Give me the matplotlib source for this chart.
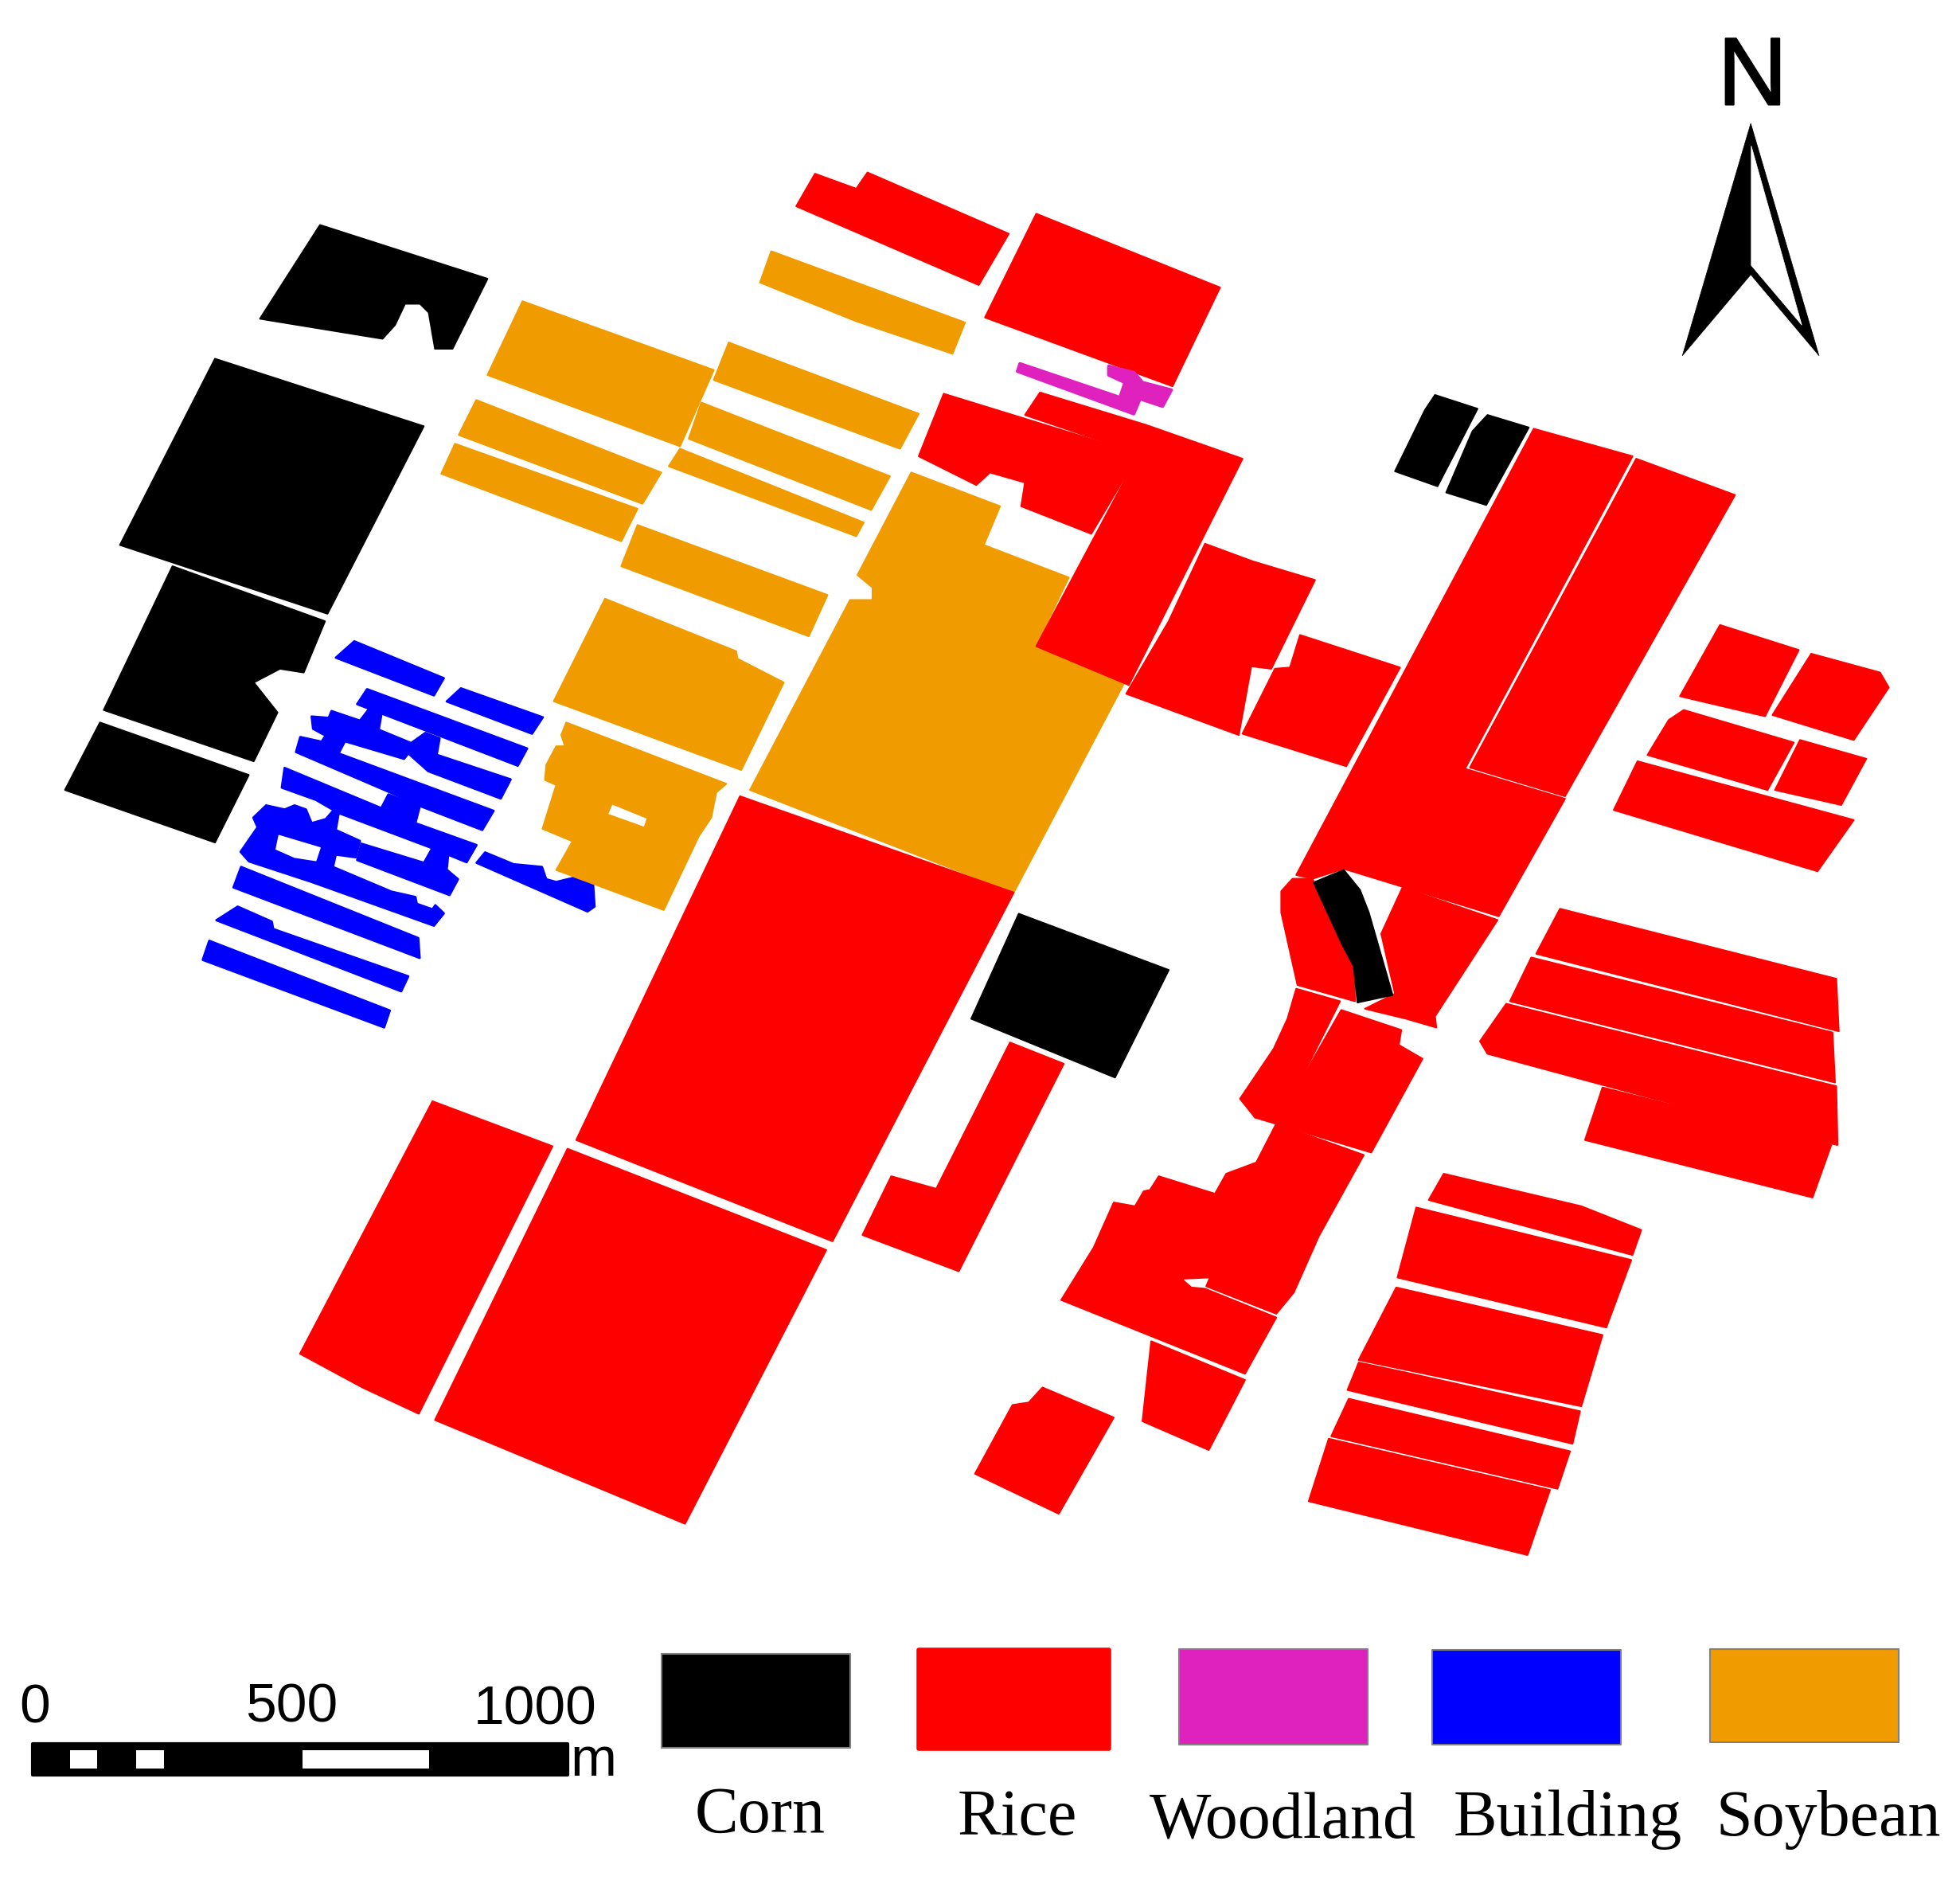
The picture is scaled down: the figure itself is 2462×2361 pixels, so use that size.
import matplotlib
matplotlib.use('Agg')
import matplotlib.pyplot as plt
import matplotlib.patheffects as pe
from matplotlib.patches import Polygon, Rectangle

# all outlines are in px of the 1568 wide view of the map
W, H = 1568, 1504

colors = {'Corn': '#000000', 'Rice': '#ff0000', 'Woodland': '#df21be',
          'Building': '#0000ff', 'Soybean': '#f09c00'}

corn_fields = [
    [(256,180),(390,223),(362,279),(348,279),(343,250),(336,243),(324,243),(316,260),(306,271),(208,255)],
    [(172,287),(339,341),(262,491),(96,436)],
    [(138,453),(260,497),(243,538),(224,535),(203,546),(222,570),(203,609),(83,568)],
    [(80,578),(199,620),(172,674),(52,632)],
    [(815,731),(935,776),(892,862),(777,815)],
    [(1148,316),(1182,327),(1150,389),(1116,377),(1140,328)],
    [(1190,332),(1223,342),(1189,404),(1157,394),(1178,345)],
    [(1051,706),(1075,696),(1088,712),(1095,730),(1114,796),(1086,802),(1083,773),(1074,756)],
]

rice_fields = [
    [(652,139),(685,151),(694,138),(807,187),(783,228),(637,165)],
    [(829,171),(976,230),(938,309),(788,254)],
    [(755,315),(911,363),(873,427),(817,405),(820,386),(792,378),(781,388),(735,365)],
    [(832,314),(917,340),(994,367),(903,548),(829,517),(911,363),(820,332)],
    [(964,435),(1002,449),(1052,464),(1017,535),(1001,533),(991,588),(901,555),(935,497)],
    [(1040,508),(1120,534),(1077,613),(994,587),(1020,535),(1032,534)],
    [(1227,343),(1306,365),(1172,615),(1252,639),(1199,733),(1075,695),(1050,703),(1037,700)],
    [(1309,367),(1388,396),(1252,637),(1176,614)],
    [(1376,500),(1439,520),(1412,573),(1344,557)],
    [(1449,523),(1504,538),(1511,550),(1483,592),(1418,572)],
    [(1347,568),(1435,594),(1414,632),(1318,604),(1335,576)],
    [(1440,592),(1493,607),(1473,644),(1420,632)],
    [(1310,609),(1483,656),(1454,697),(1291,648)],
    [(1248,727),(1469,783),(1471,825),(1229,763)],
    [(1225,766),(1466,826),(1468,866),(1208,801)],
    [(1205,803),(1469,869),(1470,916),(1412,903),(1190,843),(1184,833)],
    [(1282,870),(1465,916),(1450,958),(1268,912)],
    [(592,637),(811,714),(666,993),(461,912)],
    [(346,881),(442,917),(335,1131),(290,1110),(240,1083)],
    [(454,919),(661,1000),(548,1219),(348,1136)],
    [(808,834),(851,851),(767,1017),(690,988),(713,941),(749,951)],
    [(1034,703),(1050,703),(1074,758),(1083,773),(1084,801),(1038,788),(1025,730),(1025,713)],
    [(1122,710),(1198,736),(1148,813),(1149,822),(1125,815),(1092,807),(1116,795),(1105,747)],
    [(1037,791),(1072,801),(1037,871),(1004,894),(992,879),(1019,839),(1030,815)],
    [(1073,808),(1121,824),(1119,836),(1138,847),(1097,922),(1004,894),(1037,871)],
    [(927,941),(972,955),(981,939),(1005,930),(1021,899),(1091,924),(1055,989),(1035,1034),(1021,1051),(965,1029),(968,1022),(945,1023),(953,1030),(964,1031),(1021,1054),(996,1099),(849,1040),(875,998),(891,962),(908,965),(915,953),(920,952)],
    [(921,1073),(996,1104),(967,1160),(914,1137),(918,1100)],
    [(834,1110),(891,1134),(847,1211),(780,1179),(810,1124),(823,1122)],
    [(1155,939),(1265,965),(1313,984),(1306,1004),(1143,960)],
    [(1133,966),(1305,1008),(1285,1062),(1118,1022)],
    [(1117,1030),(1282,1068),(1265,1125),(1087,1088)],
    [(1087,1090),(1120,1097),(1264,1129),(1258,1155),(1078,1112)],
    [(1079,1119),(1256,1161),(1246,1191),(1065,1149)],
    [(1063,1151),(1240,1192),(1222,1244),(1047,1201)],
]

soybean_fields = [
    [(418,241),(571,296),(544,357),(390,300)],
    [(381,320),(529,378),(514,403),(367,348)],
    [(364,355),(510,407),(497,433),(353,379)],
    [(583,274),(735,331),(720,359),(571,304)],
    [(617,201),(772,258),(762,283),(685,257),(608,226)],
    [(561,322),(712,381),(697,408),(551,351)],
    [(544,359),(691,418),(685,429),(535,373)],
    [(510,420),(662,476),(647,509),(497,453)],
    [(484,479),(589,521),(590,527),(627,546),(593,616),(443,561)],
    [(729,378),(800,405),(787,436),(855,462),(829,516),(899,547),(811,714),(600,632),(680,480),(698,480),(698,470),(686,460)],
    [(453,578),(581,627),(573,634),(569,654),(559,669),(531,728),(445,696),(458,673),(434,663),(445,628),(436,624),(437,612),(445,597),(452,597),(449,588)],
]

woodland_fields = [
    [(816,291),(896,318),(900,306),(887,300),(887,293),(907,298),(914,306),(937,312),(930,325),(912,319),(907,331),(814,297)],
]

building_crop = [
    [(630,70),(945,205),(910,268),(565,130)],
    [(1005,242),(1293,348),(1255,408),(955,290)],
    [(675,245),(1238,462),(1205,525),(640,300)],
    [(680,320),(725,340),(715,400),(650,360)],
    [(480,345),(540,350),(550,325),(655,362),(720,395),(830,442),(880,405),(930,425),(920,485),(1180,575),(1145,645),(890,545),(820,480),(805,500),(595,435),(520,410),(485,390)],
    [(440,420),(515,437),(535,405),(600,430),(575,480),(1120,690),(1080,760),(860,672),(750,620),(425,475)],
    [(385,533),(725,680),(750,630),(860,675),(845,735),(1060,815),(1025,878),(900,825),(575,698),(495,650),(375,605)],
    [(905,825),(960,855),(955,905),(995,940),(965,998),(640,870),(655,810),(875,880)],
    [(275,715),(320,670),(385,685),(420,670),(460,685),(480,735),(530,720),(555,690),(575,700),(565,760),(650,800),(635,860),(565,850),(555,895),(760,985),(845,1005),(850,1030),(905,1050),(915,1035),(945,1065),(910,1110),(480,950),(260,875),(230,840),(290,750)],
    [(232,895),(855,1155),(860,1228),(205,970)],
    [(220,1040),(340,1095),(345,1122),(820,1295),(795,1350),(145,1090)],
    [(120,1165),(755,1420),(735,1482),(97,1235)],
    [(1090,842),(1190,885),(1290,895),(1305,940),(1340,950),(1400,935),(1470,960),(1475,1040),(1450,1058),(1060,880)],
]
building_holes_crop = [
    [(365,780),(510,825),(495,872),(420,860),(355,830)],
]
soybean_holes = [
    [(490,644),(517,655),(515,661),(487,651)],
]

def to_view(poly):
    return [(140.1 + x*0.2275, 497.7 + y*0.2188) for x, y in poly]

legend_names = ['Corn', 'Rice', 'Woodland', 'Building', 'Soybean']
legend_boxes = [(529,1323,680,1398), (735,1320,887,1399), (943,1319,1094,1396),
                (1146,1320,1297,1396), (1368,1319,1519,1394)]
legend_text_x = [608, 814, 1026, 1254, 1463]
legend_text_y = [1453, 1455, 1458, 1456, 1456]

scale_labels = ['0', '500', '1000']
scale_label_x = [28, 233, 428]
scale_label_y = [1367, 1366, 1368]
scale_bar = (26, 1395, 454, 1420)
scale_white = [(56, 78), (109, 131), (242, 343)]

arrow_outline = [(1400.6,98.7),(1455.2,284.5),(1400.6,219.7),(1345.9,284.5)]
arrow_inner = [(1401,116.7),(1441.4,260),(1401,212.3)]

fig = plt.figure(figsize=(24.62, 23.61), dpi=100, facecolor='white')
ax = fig.add_axes([0, 0, 1, 1])
ax.set_xlim(0, W)
ax.set_ylim(H, 0)
ax.axis('off')

def draw(polys, color, lw=1.5):
    for p in polys:
        ax.add_patch(Polygon(p, closed=True, facecolor=color, edgecolor=color, linewidth=lw, joinstyle='round'))

draw([to_view(p) for p in building_crop], colors['Building'], lw=2)
draw([to_view(p) for p in building_holes_crop], 'white', lw=1)
draw(soybean_fields, colors['Soybean'])
draw(soybean_holes, 'white', lw=0.5)
draw(rice_fields, colors['Rice'])
draw(corn_fields, colors['Corn'])
draw(woodland_fields, colors['Woodland'], lw=3)

# legend
for name, box, tx, ty in zip(legend_names, legend_boxes, legend_text_x, legend_text_y):
    x0, y0, x1, y1 = box
    edge = colors[name] if name == 'Rice' else '#808080'
    lw = 4 if name == 'Rice' else 1.5
    ax.add_patch(Rectangle((x0, y0), x1-x0, y1-y0, facecolor=colors[name], edgecolor=edge, linewidth=lw, joinstyle='round'))
    ax.text(tx, ty, name, family='Liberation Serif', fontsize=59, ha='center', va='center', color='black')

# scale bar
x0, y0, x1, y1 = scale_bar
ax.add_patch(Rectangle((x0, y0), x1-x0, y1-y0, facecolor='black', edgecolor='black', linewidth=3, joinstyle='round'))
for a, b in scale_white:
    ax.add_patch(Rectangle((a, 1400), b-a, 15, facecolor='white', edgecolor='none'))
for s, tx, ty in zip(scale_labels, scale_label_x, scale_label_y):
    ax.text(tx, ty, s, family='Liberation Sans', fontsize=50, ha='center', va='center', color='black')
ax.text(475, 1409, 'm', family='Liberation Sans', fontsize=50, ha='center', va='center', color='black')

# north arrow
ax.text(1402, 64, 'N', family='Liberation Sans', fontsize=87, ha='center', va='center', color='black',
        path_effects=[pe.withStroke(linewidth=1.5, foreground='black')])
draw([arrow_outline], 'black', lw=0.5)
draw([arrow_inner], 'white', lw=0.5)

fig.savefig('out.png', dpi=100, facecolor='white')
